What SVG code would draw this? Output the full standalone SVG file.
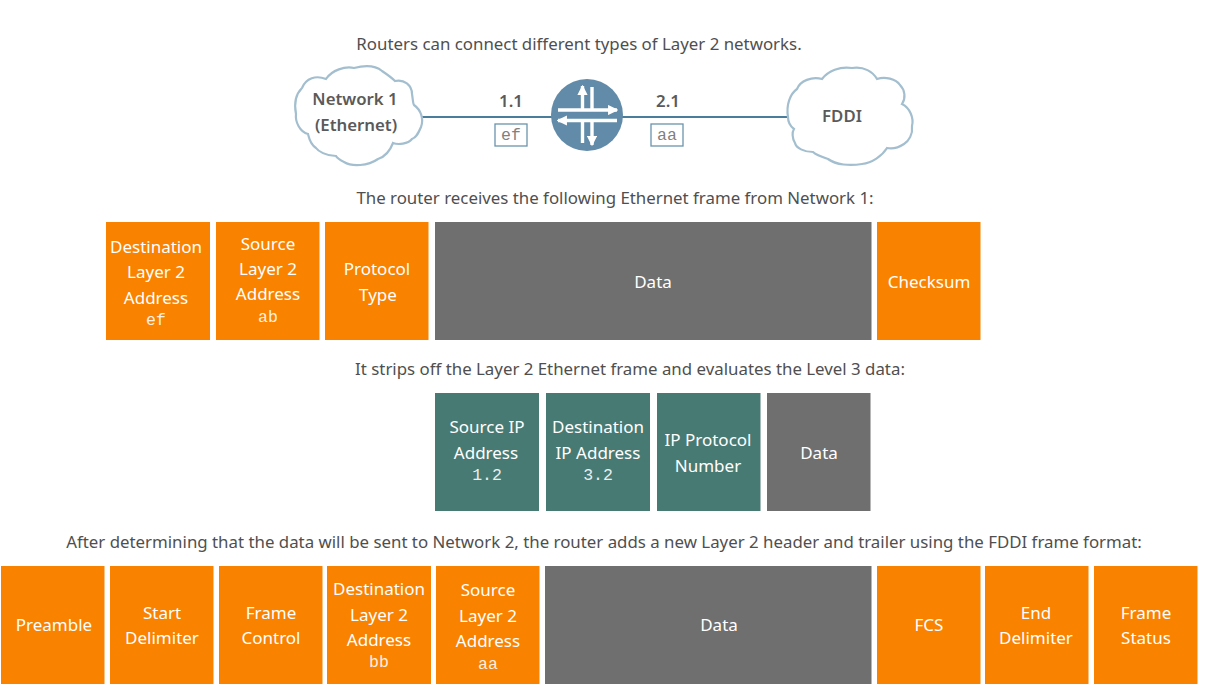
<svg xmlns="http://www.w3.org/2000/svg" width="1207" height="690" viewBox="0 0 1207 690">
<defs>
<marker id="ah" viewBox="0 0 8 8" refX="7" refY="4" markerWidth="3" markerHeight="3" orient="auto"><path d="M0 0L8 4L0 8z" fill="#fff"/></marker>
</defs>
<style>
text{font-family:"Noto Sans","Open Sans",sans-serif;text-anchor:middle;font-size:17px;fill:#fff}
.cap{fill:#4f4f4f;font-size:16.85px}
.lab{fill:#5a5a5a;font-weight:600;font-size:16.8px}
.m{font-family:"Liberation Mono",monospace;font-size:16.5px;opacity:.88}
.b{fill:#fff;stroke:#6a95ad;stroke-width:1.3}
.mm{font-family:"Liberation Mono",monospace;font-size:16.5px;fill:#808080}
.o{fill:#f98200}.g{fill:#6f6f6f}.t{fill:#487a74}
.cloud{fill:#fff;stroke:#a3bfcf;stroke-width:2.2}
.w{stroke:#fff;stroke-width:3.4;fill:none}
</style>
<rect width="1207" height="690" fill="#fff"/>
<text class="cap" x="579" y="50">Routers can connect different types of Layer 2 networks.</text>
<text class="cap" x="615" y="204">The router receives the following Ethernet frame from Network 1:</text>
<text class="cap" x="630" y="375">It strips off the Layer 2 Ethernet frame and evaluates the Level 3 data:</text>
<text class="cap" x="604" y="548">After determining that the data will be sent to Network 2, the router adds a new Layer 2 header and trailer using the FDDI frame format:</text>
<g id="connectors"><path d="M422 117H552M622 117H788" stroke="#4a7d9c" stroke-width="2" fill="none"/></g>
<g id="cloud1"><path class="cloud" d="M302 88C306 78 316 75 326 79C332 70 345 66 354 68C366 65 376 66 382 71C388 75 392 78 395 81C404 79 412 85 412 94C413 100 413 104 414 105C421 110 424 119 421 127C418 134 416 138 412 139C408 144 398 145 393 143C390 151 384 157 378 159C368 166 352 167 344 162C340 160 337 158 336 156C326 156 318 151 316 148C310 144 309 138 308 134C300 132 295 122 296 114C294 104 296 94 302 88Z"/>
<text class="lab" x="355" y="105">Network 1</text><text class="lab" x="356" y="131">(Ethernet)</text></g>
<g id="router"><circle cx="587" cy="115" r="36" fill="#618ba8"/>
<g class="w"><path d="M558 110H617" marker-end="url(#ah)"/><path d="M617 120.500H558" marker-end="url(#ah)"/><path d="M582.500 110V86" marker-end="url(#ah)"/><path d="M592 87V110"/><path d="M582.500 120.500V143"/><path d="M592 120.500V145" marker-end="url(#ah)"/></g></g>
<g id="if11"><text class="lab" x="511" y="107">1.1</text><rect class="b" x="495" y="124" width="32" height="22"/><text class="mm" x="511" y="140">ef</text></g>
<g id="if21"><text class="lab" x="668" y="107">2.1</text><rect class="b" x="651" y="124" width="32" height="22"/><text class="mm" x="667" y="140">aa</text></g>
<g id="cloud2"><path class="cloud" d="M788 117C786 105 790 94 797 89C800 81 812 76 822 79C828 71 840 66 852 68C864 66 873 72 877 79C885 76 896 79 900 85C905 90 906 98 902 104C910 108 914 118 912 126C913 134 909 141 904 144C898 148 892 149 887 148C882 156 872 163 862 164C850 166 836 165 828 159C822 157 816 155 813 152C804 152 796 148 795 143C792 138 792 132 794 129C790 126 788 122 788 117Z"/>
<text class="lab" x="842" y="122">FDDI</text></g>

<g id="f1a"><rect class="o" x="106" y="222" width="104" height="118"/><text x="156" y="253">Destination</text><text x="156" y="278">Layer 2</text><text x="156" y="304">Address</text><text class="m" x="156" y="325">ef</text></g>
<g id="f1b"><rect class="o" x="216" y="222" width="103.500" height="118"/><text x="268" y="250">Source</text><text x="268" y="275">Layer 2</text><text x="268" y="300">Address</text><text class="m" x="268" y="322">ab</text></g>
<g id="f1c"><rect class="o" x="325" y="222" width="103.500" height="118"/><text x="377" y="275">Protocol</text><text x="378" y="301">Type</text></g>
<g id="f1d"><rect class="g" x="435" y="222" width="436.500" height="118"/><text x="653" y="288">Data</text></g>
<g id="f1e"><rect class="o" x="877" y="222" width="103.500" height="118"/><text x="929" y="288">Checksum</text></g>

<g id="f2a"><rect class="t" x="435" y="393" width="104" height="118"/><text x="487" y="433">Source IP</text><text x="486" y="459">Address</text><text class="m" x="487" y="480">1.2</text></g>
<g id="f2b"><rect class="t" x="546" y="393" width="104" height="118"/><text x="598" y="433">Destination</text><text x="598" y="459">IP Address</text><text class="m" x="598" y="480">3.2</text></g>
<g id="f2c"><rect class="t" x="657" y="393" width="103.500" height="118"/><text x="708" y="446">IP Protocol</text><text x="708" y="472">Number</text></g>
<g id="f2d"><rect class="g" x="767" y="393" width="103.500" height="118"/><text x="819" y="459">Data</text></g>

<g id="f3a"><rect class="o" x="1" y="566" width="103.500" height="118"/><text x="54" y="631">Preamble</text></g>
<g id="f3b"><rect class="o" x="110" y="566" width="103.500" height="118"/><text x="162" y="619">Start</text><text x="162" y="644">Delimiter</text></g>
<g id="f3c"><rect class="o" x="219" y="566" width="103.500" height="118"/><text x="271" y="619">Frame</text><text x="271" y="644">Control</text></g>
<g id="f3d"><rect class="o" x="327" y="566" width="104" height="118"/><text x="379" y="595">Destination</text><text x="379" y="621">Layer 2</text><text x="379" y="646">Address</text><text class="m" x="379" y="667">bb</text></g>
<g id="f3e"><rect class="o" x="436" y="566" width="103.500" height="118"/><text x="488" y="596">Source</text><text x="488" y="622">Layer 2</text><text x="488" y="647">Address</text><text class="m" x="488" y="669">aa</text></g>
<g id="f3f"><rect class="g" x="545" y="566" width="326.500" height="118"/><text x="719" y="631">Data</text></g>
<g id="f3g"><rect class="o" x="877" y="566" width="103.500" height="118"/><text x="929" y="631">FCS</text></g>
<g id="f3h"><rect class="o" x="985" y="566" width="103.500" height="118"/><text x="1036" y="619">End</text><text x="1036" y="644">Delimiter</text></g>
<g id="f3i"><rect class="o" x="1094" y="566" width="103.500" height="118"/><text x="1146" y="619">Frame</text><text x="1146" y="644">Status</text></g>
</svg>
